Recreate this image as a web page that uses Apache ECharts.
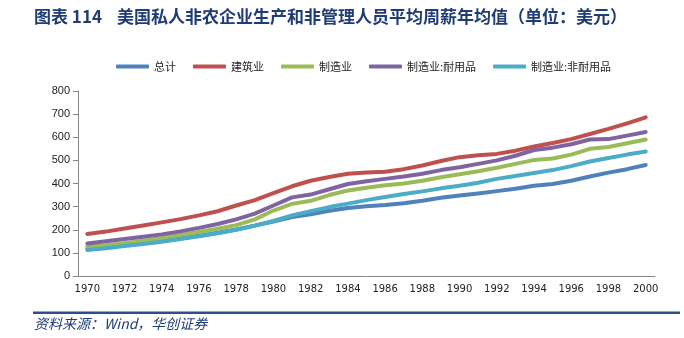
<!DOCTYPE html>
<html><head><meta charset="utf-8">
<script src="https://cdn.jsdelivr.net/npm/echarts@6/dist/echarts.min.js"></script>
<style>html,body{margin:0;padding:0;background:#fff}#c{width:684px;height:338px}</style>
</head><body><div id="c"></div>
<script>
const years = ['1970','1971','1972','1973','1974','1975','1976','1977','1978','1979','1980','1981','1982','1983','1984','1985','1986','1987','1988','1989','1990','1991','1992','1993','1994','1995','1996','1997','1998','1999','2000'];
const total = [118,125,134,143,152,162,174,187,201,218,236,255,267,282,294,302,307,315,325,338,348,357,367,377,390,398,412,430,447,462,480];
const construction = [182,192,205,218,232,246,262,280,305,328,358,388,412,428,442,448,451,462,478,497,514,522,528,542,560,575,592,614,636,660,686];
const manufacturing = [127,133,142,153,164,177,190,204,220,245,283,312,325,350,370,382,392,400,412,427,440,453,468,485,502,508,525,550,558,574,590];
const durable = [141,150,160,170,180,193,208,225,245,270,305,340,352,375,398,410,420,430,442,458,470,485,500,520,545,555,570,590,592,607,623];
const nondurable = [112,120,130,138,148,160,172,185,200,218,238,262,280,298,313,328,342,355,366,379,390,403,420,432,445,458,475,495,510,525,538];
const names = ['总计','建筑业','制造业','制造业:耐用品','制造业:非耐用品'];
const colors = ['#4F81BD','#C0504D','#9BBB59','#8064A2','#4BACC6'];
const yTicks = {min:0, max:800, interval:100};

const chart = echarts.init(document.getElementById('c'));
const mk = (name, data, color) => ({
  name, type:'line', data, symbol:'none', smooth:false,
  lineStyle:{width:4, color, cap:'round', join:'round'}, itemStyle:{color}
});
chart.setOption({
  animation:false,
  graphic:[
    {type:'text', left:34, top:8, style:{text:'图表 114', font:'bold 17px "Noto Sans CJK SC", serif', fill:'#1F3C74'}},
    {type:'text', left:117, top:8, style:{text:'美国私人非农企业生产和非管理人员平均周薪年均值（单位：美元）', font:'bold 17px "Noto Sans CJK SC", serif', fill:'#1F3C74'}},
    {type:'rect', shape:{x:33, y:311.5, width:647, height:2.5}, style:{fill:'#2B5088'}},
    {type:'text', left:34, top:317, style:{text:'资料来源：Wind，华创证券', font:'italic 14px "Noto Sans CJK SC", serif', fill:'#1F3C74'}}
  ],
  legend:{
    top:56, left:111, itemGap:17, itemWidth:33, itemHeight:4, icon:'roundRect',
    textStyle:{fontSize:11, color:'#222', fontFamily:'"Noto Sans CJK SC"'},
    data:names
  },
  grid:{left:78, right:29, top:91, bottom:62},
  xAxis:{
    type:'category', data:years, boundaryGap:true,
    axisLine:{lineStyle:{color:'#888'}},
    axisTick:{alignWithLabel:true, interval:0, lineStyle:{color:'#888'}},
    axisLabel:{interval:1, fontSize:10, color:'#222', fontFamily:'"DejaVu Sans"'}
  },
  yAxis:{
    type:'value', min:yTicks.min, max:yTicks.max, interval:yTicks.interval,
    axisLine:{show:true, lineStyle:{color:'#888'}},
    axisTick:{show:true, lineStyle:{color:'#888'}},
    splitLine:{show:false},
    axisLabel:{fontSize:11, color:'#222', fontFamily:'Arial, "Liberation Sans"'}
  },
  series:[
    mk(names[0], total, colors[0]),
    mk(names[1], construction, colors[1]),
    mk(names[2], manufacturing, colors[2]),
    mk(names[3], durable, colors[3]),
    mk(names[4], nondurable, colors[4])
  ]
});
</script></body></html>
